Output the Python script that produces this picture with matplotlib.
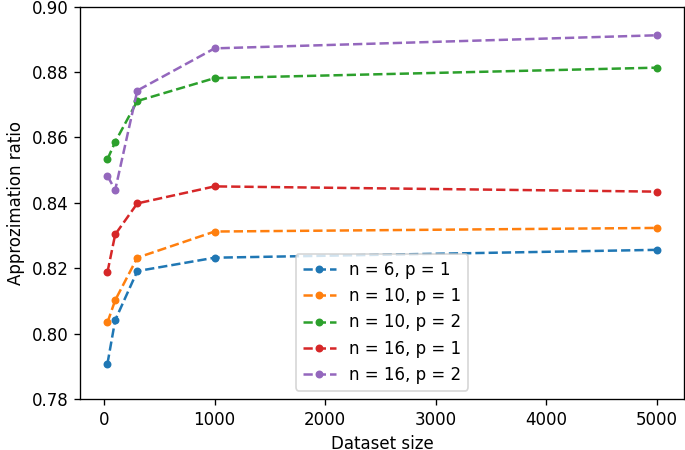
import matplotlib
matplotlib.use('Agg')
import matplotlib.pyplot as plt

# Tamaños de conjunto de datos
tamanos = [30, 100, 300, 1000, 5000]

# Razón de aproximación por configuración
n6_p1 = [0.7908, 0.8041, 0.8191, 0.8232, 0.8256]
n10_p1 = [0.8034, 0.8102, 0.8232, 0.8312, 0.8323]
n10_p2 = [0.8533, 0.8586, 0.8711, 0.8781, 0.8813]
n16_p1 = [0.8188, 0.8303, 0.8398, 0.8450, 0.8434]
n16_p2 = [0.8482, 0.8439, 0.8743, 0.8872, 0.8912]

etiquetas = ['n = 6, p = 1', 'n = 10, p = 1', 'n = 10, p = 2',
             'n = 16, p = 1', 'n = 16, p = 2']

fig = plt.figure(figsize=(685 / 120, 450 / 120), dpi=120)
ax = fig.add_axes([80 / 685, 1 - 399 / 450, 604 / 685, 392.5 / 450])

for serie, etiqueta in zip([n6_p1, n10_p1, n10_p2, n16_p1, n16_p2], etiquetas):
    ax.plot(tamanos, serie, label=etiqueta, marker='.', markersize=7.5, linestyle='--')

ax.set_xlabel('Dataset size')
ax.set_ylabel('Approzimation ratio')
ax.set_ylim(0.78, 0.90)
ax.set_xticks([0, 1000, 2000, 3000, 4000, 5000])
ax.legend(loc='lower center')

fig.savefig('out.png', dpi=120)
